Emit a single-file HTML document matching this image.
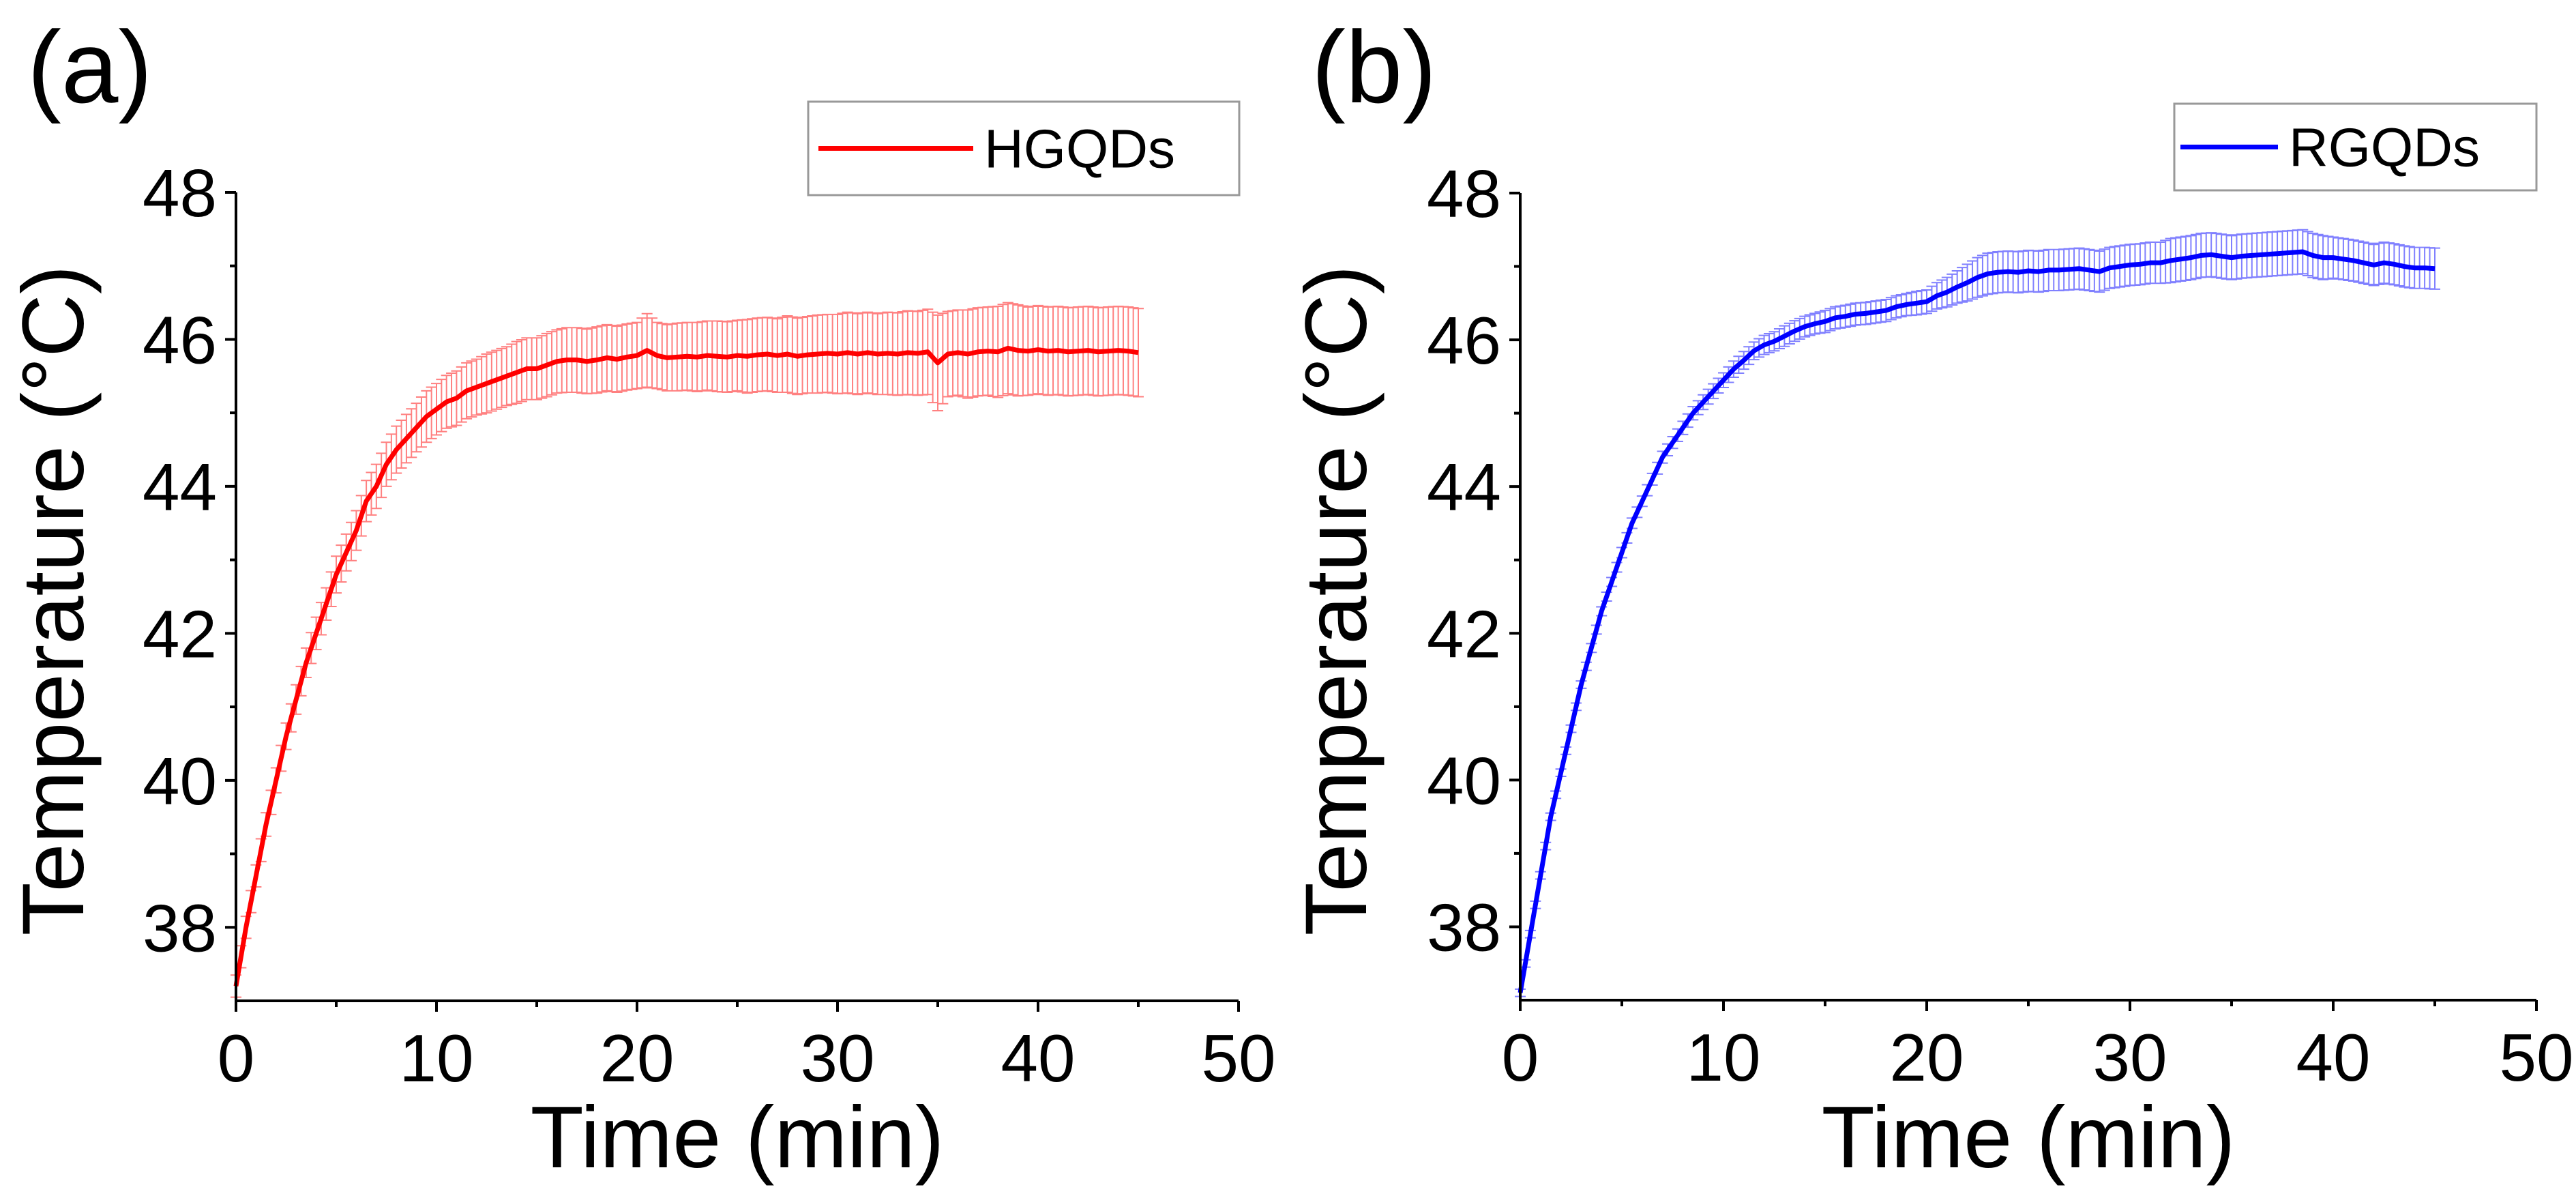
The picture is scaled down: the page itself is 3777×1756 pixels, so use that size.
<!DOCTYPE html>
<html><head><meta charset="utf-8"><style>
html,body{margin:0;padding:0;background:#fff;}
svg{display:block;font-family:"Liberation Sans",Arial,sans-serif;}
</style></head><body>
<svg id="fig" width="3777" height="1756" viewBox="0 0 3777 1756" xmlns="http://www.w3.org/2000/svg"></svg>
<script>
const xTicks=[0,10,20,30,40,50];
const yTicks=[38,40,42,44,46,48];
const hgqdsTemp=[37.2,38.0,38.7,39.4,40.0,40.6,41.1,41.6,42.0,42.4,42.8,43.1,43.4,43.8,44.0,44.3,44.5,44.65,44.8,44.95,45.05,45.15,45.2,45.3,45.35,45.4,45.45,45.5,45.55,45.6,45.6,45.65,45.7,45.72,45.72,45.7,45.72,45.75,45.73,45.76,45.78,45.85,45.78,45.75,45.76,45.77,45.76,45.78,45.77,45.76,45.78,45.77,45.79,45.8,45.78,45.8,45.77,45.79,45.8,45.81,45.8,45.82,45.8,45.82,45.8,45.81,45.8,45.82,45.81,45.83,45.68,45.8,45.82,45.8,45.83,45.84,45.83,45.88,45.85,45.84,45.86,45.84,45.85,45.83,45.84,45.85,45.83,45.84,45.85,45.84,45.82];
const hgqdsErr=[0.15,0.15,0.15,0.16,0.17,0.18,0.2,0.2,0.22,0.22,0.25,0.25,0.27,0.28,0.3,0.3,0.32,0.33,0.33,0.35,0.35,0.36,0.37,0.38,0.38,0.4,0.4,0.4,0.42,0.42,0.42,0.43,0.43,0.44,0.44,0.44,0.45,0.45,0.45,0.45,0.45,0.5,0.45,0.45,0.46,0.46,0.47,0.47,0.48,0.48,0.48,0.5,0.5,0.5,0.5,0.52,0.52,0.52,0.53,0.53,0.54,0.55,0.55,0.55,0.55,0.56,0.56,0.57,0.57,0.58,0.65,0.58,0.58,0.6,0.6,0.6,0.62,0.62,0.62,0.6,0.6,0.6,0.6,0.6,0.6,0.6,0.6,0.6,0.6,0.6,0.6];
const rgqdsTemp=[37.1,37.9,38.7,39.5,40.1,40.7,41.3,41.8,42.3,42.7,43.1,43.5,43.8,44.1,44.4,44.6,44.8,45.0,45.15,45.3,45.45,45.6,45.72,45.85,45.93,45.98,46.05,46.12,46.18,46.22,46.25,46.3,46.32,46.35,46.36,46.38,46.4,46.45,46.48,46.5,46.52,46.6,46.65,46.72,46.78,46.85,46.9,46.92,46.93,46.92,46.94,46.93,46.95,46.95,46.96,46.97,46.95,46.93,46.98,47.0,47.02,47.03,47.05,47.05,47.08,47.1,47.12,47.15,47.16,47.14,47.12,47.14,47.15,47.16,47.17,47.18,47.19,47.2,47.15,47.12,47.12,47.1,47.08,47.05,47.02,47.05,47.03,47.0,46.98,46.98,46.97];
const rgqdsErr=[0.05,0.05,0.05,0.05,0.05,0.05,0.05,0.06,0.06,0.06,0.07,0.07,0.07,0.08,0.08,0.08,0.09,0.09,0.1,0.1,0.1,0.11,0.12,0.12,0.13,0.13,0.14,0.14,0.14,0.14,0.15,0.15,0.15,0.15,0.15,0.15,0.15,0.15,0.15,0.16,0.16,0.18,0.2,0.22,0.25,0.27,0.28,0.28,0.28,0.28,0.28,0.28,0.28,0.28,0.28,0.28,0.28,0.28,0.28,0.28,0.28,0.28,0.28,0.28,0.3,0.3,0.3,0.3,0.3,0.3,0.3,0.3,0.3,0.3,0.3,0.3,0.3,0.3,0.3,0.3,0.28,0.28,0.28,0.28,0.28,0.28,0.28,0.28,0.28,0.28,0.28];
const timeStep=0.5;

const NS="http://www.w3.org/2000/svg";
const svg=document.getElementById('fig');
function mk(tag,attrs,parent){const e=document.createElementNS(NS,tag);for(const k in attrs)e.setAttribute(k,attrs[k]);(parent||svg).appendChild(e);return e;}

function panel(cfg){
  const g=mk('g',{});
  
  
  const X=v=>cfg.x0+(v-0)/(50-0)*(cfg.x1-cfg.x0);
  const Y=v=>cfg.yb+(v-37)/(48-37)*(cfg.yt-cfg.yb);
  // error bars
  const eg=mk('g',{stroke:cfg.errColor,'stroke-width':2,fill:'none'},g);
  
  
  let d='';
  cfg.temp.forEach((v,i)=>{
    const x=X(i*timeStep),e=cfg.err[i];
    const yt=Y(v+e),yb=Y(v-e);
    d+=`M${x},${yt}V${yb}M${x-8},${yt}H${x+8}M${x-8},${yb}H${x+8}`;
    if(i<cfg.temp.length-1){
      const v2=(v+cfg.temp[i+1])/2,e2=(e+cfg.err[i+1])/2,x2=X((i+0.5)*timeStep);
      d+=`M${x2},${Y(v2+e2)}V${Y(v2-e2)}M${x2-8},${Y(v2+e2)}H${x2+8}M${x2-8},${Y(v2-e2)}H${x2+8}`;
    }
  });
  mk('path',{d:d},eg);
  // line
  const line=mk('polyline',{points:cfg.temp.map((v,i)=>X(i*timeStep)+','+Y(v)).join(' '),fill:'none',stroke:cfg.color,'stroke-width':7,'stroke-linejoin':'round'},g);
  
  
  // axes
  const ax=mk('path',{d:`M${cfg.x0},${cfg.yt}V${cfg.yb}H${cfg.x1}`,stroke:'#000','stroke-width':4,fill:'none'},g);
  
  
  let td='';
  for(let v=0;v<=50;v+=5){const x=X(v);td+=`M${x},${cfg.yb}V${cfg.yb+(v%10===0?16:9)}`;}
  for(let v=37;v<=48;v+=1){const y=Y(v);if(v===37)continue;td+=`M${cfg.x0},${y}H${cfg.x0-(v%2===0?16:9)}`;}
  mk('path',{d:td,stroke:'#000','stroke-width':4},g);
  xTicks.forEach(v=>{const t=mk('text',{x:X(v),y:cfg.yb+118,'font-size':98,'text-anchor':'middle',fill:'#000'},g);t.textContent=v;
    
    });
  yTicks.forEach(v=>{const t=mk('text',{x:cfg.x0-28,y:Y(v)+35,'font-size':98,'text-anchor':'end',fill:'#000'},g);t.textContent=v;
    
    });
  const xt=mk('text',{x:(cfg.x0+cfg.x1)/2,y:1711,'font-size':128,'text-anchor':'middle',fill:'#000'},g);xt.textContent='Time (min)';
  
  
  const yt=mk('text',{x:0,y:0,'font-size':128,'text-anchor':'middle',fill:'#000',transform:`translate(${cfg.ytx},880) rotate(-90)`},g);yt.textContent='Temperature (°C)';
  
  
  const pl=mk('text',{x:cfg.plx,y:150,'font-size':150,fill:'#000'},g);pl.textContent=cfg.label;
  
  
  // legend
  const lg=mk('g',{},g);
  
  
  mk('rect',{x:cfg.lx0,y:cfg.ly0,width:cfg.lx1-cfg.lx0,height:cfg.ly1-cfg.ly0,fill:'#fff',stroke:'#999','stroke-width':3},lg);
  const my=(cfg.ly0+cfg.ly1)/2;
  mk('line',{x1:cfg.ll0,x2:cfg.ll1,y1:my,y2:my,stroke:cfg.color,'stroke-width':7},lg);
  const lt=mk('text',{x:cfg.ll1+16,y:my+28,'font-size':80,fill:'#000'},lg);lt.textContent=cfg.series;
  
  
}
panel({name:'panel-a',label:'(a)',series:'HGQDs',temp:hgqdsTemp,err:hgqdsErr,color:'#ff0000',errColor:'#ff8080',
  x0:346,x1:1816,yt:282,yb:1467,ytx:122,plx:40,lx0:1185,lx1:1817,ly0:149,ly1:286,ll0:1200,ll1:1427});
panel({name:'panel-b',label:'(b)',series:'RGQDs',temp:rgqdsTemp,err:rgqdsErr,color:'#0000ff',errColor:'#8080ff',
  x0:2229,x1:3719,yt:283,yb:1466,ytx:2003,plx:1923,lx0:3188,lx1:3719,ly0:152,ly1:279,ll0:3197,ll1:3340});
</script>
</body></html>
